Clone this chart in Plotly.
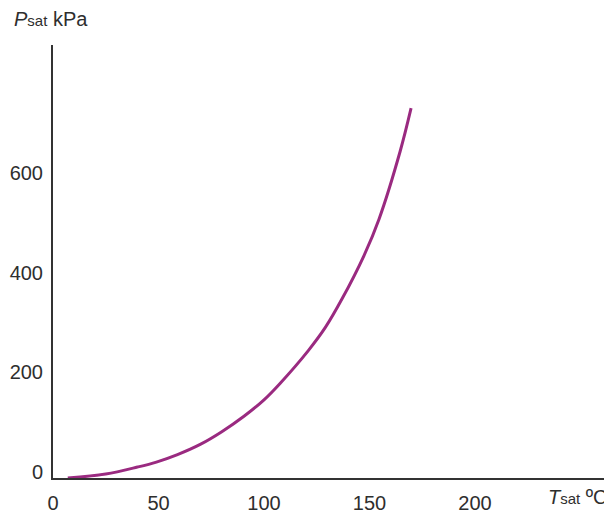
import plotly.graph_objects as go

# Saturation temperature (°C) and pressure (kPa)
t_sat = [7, 25, 40, 49, 59, 70, 80, 90.5, 100, 107.6, 121, 129, 137, 147.4, 154.5, 164.5, 169.7]
p_sat = [0, 8, 22, 32, 47, 68, 93, 124, 157, 190, 256, 302, 360, 447, 520, 656, 743]

x_ticks = [0, 50, 100, 150, 200]
y_ticks = [0, 200, 400, 600]

# page has an 8px body margin, so the figure is drawn at (8, 8)
W, H = 604, 506
ml, mr, mt, mb = 45, 0, 37, 34
pw, ph = W - ml - mr, H - mt - mb

font_family = "Liberation Sans, Arial, sans-serif"
text_color = "#2e2e2e"

fig = go.Figure()
fig.add_trace(go.Scatter(
    x=t_sat, y=p_sat, mode="lines",
    line=dict(color="#9a2a80", width=3, shape="spline", smoothing=1.0),
    hoverinfo="skip", showlegend=False,
))

fig.update_layout(
    width=W, height=H,
    margin=dict(l=ml, r=mr, t=mt, b=mb),
    paper_bgcolor="white", plot_bgcolor="white",
    font=dict(family=font_family, size=20, color=text_color),
    xaxis=dict(
        range=[0, pw / 2.11], tickvals=x_ticks, ticktext=[str(v) for v in x_ticks],
        showgrid=False, zeroline=False, showline=True, linecolor="#333333", linewidth=2,
        ticks="", ticklabelstandoff=6,
    ),
    yaxis=dict(
        range=[0, ph * 2.0], tickvals=y_ticks, ticktext=[str(v) for v in y_ticks],
        showgrid=False, zeroline=False, showline=True, linecolor="#333333", linewidth=2,
        ticks="", ticklabelstandoff=4, ticklabelshift=-6,
    ),
    annotations=[
        dict(text="<i>P</i><span style='font-size:15px'>sat</span> kPa",
             xref="paper", yref="paper", x=(4 - ml) / pw, y=(H - mb - 11) / ph,
             xanchor="left", yanchor="middle", showarrow=False,
             font=dict(size=20, color=text_color, family=font_family)),
        dict(text="<i>T</i><span style='font-size:15px'>sat</span> ºC",
             xref="paper", yref="paper", x=(602 - ml) / pw, y=(H - mb - 491) / ph,
             xanchor="right", yanchor="middle", showarrow=False,
             font=dict(size=20, color=text_color, family=font_family)),
    ],
)

fig.write_html("out.html")
